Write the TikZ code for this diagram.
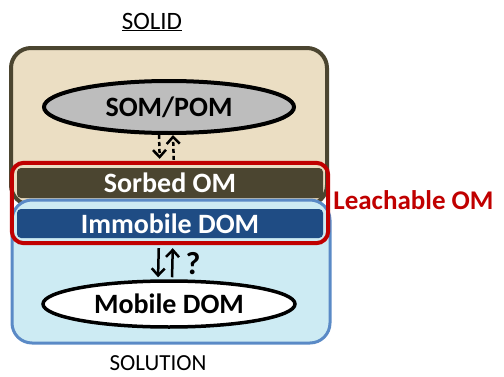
\documentclass[tikz,border=0pt]{standalone}
\usepackage{fontspec}
\setmainfont{Carlito}
\usetikzlibrary{arrows.meta,positioning,shapes.geometric,fit}
\definecolor{SoilBrown}{HTML}{4B4530}
\definecolor{SoilSand}{HTML}{EBDEC3}
\definecolor{WaterBlue}{HTML}{5A8AC6}
\definecolor{WaterPale}{HTML}{CDEBF3}
\definecolor{DomNavy}{HTML}{1F4C84}
\definecolor{LeachRed}{HTML}{C00000}
\definecolor{PoolGray}{HTML}{BDBDBD}

\begin{document}
\begin{tikzpicture}[x=1pt,y=1pt,
  pool/.style={ellipse,draw=black,line width=4pt,inner sep=0pt,font=\fontsize{28}{30}\selectfont\bfseries},
  band/.style={rectangle,rounded corners=4pt,minimum width=306pt,inner sep=0pt,text=white,font=\fontsize{28}{30}\selectfont\bfseries},
  flux/.style={-{Straight Barb[length=7pt,width=13pt]},line width=2.5pt}]
\useasboundingbox (0,0) rectangle (504,376);
% solid and solution compartments
\draw[SoilBrown,fill=SoilSand,line width=4pt,rounded corners=20pt] (11,328) rectangle (327,171);
\draw[WaterBlue,fill=WaterPale,line width=3pt,rounded corners=20pt] (12,176) rectangle (330,33);
\node[font=\fontsize{25}{27}\selectfont] (solid) at (152,354) {\underline{SOLID}};
\node[font=\fontsize{23}{25}\selectfont] (solution) at (158,13) {SOLUTION};
% pools
\node[band,fill=SoilBrown,minimum height=30pt] (sorbed) at (170,193) {Sorbed OM};
\node[band,fill=DomNavy,minimum height=29pt] (immobile) at (170,152.5) {Immobile DOM};
\node[draw=LeachRed,line width=4pt,rounded corners=12pt,inner sep=5pt,fit=(sorbed)(immobile)] (leach) {};
\node[right=3pt of leach,yshift=3pt,inner sep=0pt,text=LeachRed,font=\fontsize{27}{29}\selectfont\bfseries] (leachlabel) {Leachable OM};
\node[pool,fill=PoolGray,minimum width=250pt,minimum height=52pt] (som) at (169,269) {SOM/POM};
\node[pool,fill=white,line width=3.5pt,minimum width=252pt,minimum height=46pt] (mobile) at (169,72) {Mobile DOM};
% exchanges
\draw[flux,dashed,dash pattern=on 4pt off 3pt] ([xshift=-10pt]som.south) -- ([xshift=-10pt]sorbed.north) [shorten >=9pt];
\draw[flux,dashed,dash pattern=on 4pt off 3pt,shorten <=8pt] ([xshift=4pt]sorbed.north) -- ([xshift=4pt]som.south);
\draw[flux,shorten <=10pt,shorten >=2pt] ([xshift=-11pt]immobile.south) -- ([xshift=-11pt]mobile.north);
\draw[flux,shorten <=2pt,shorten >=10pt] ([xshift=3pt]mobile.north) -- ([xshift=3pt]immobile.south);
\node[font=\fontsize{32}{34}\selectfont\bfseries] (unknown) at (193,112) {?};
\end{tikzpicture}
\end{document}
